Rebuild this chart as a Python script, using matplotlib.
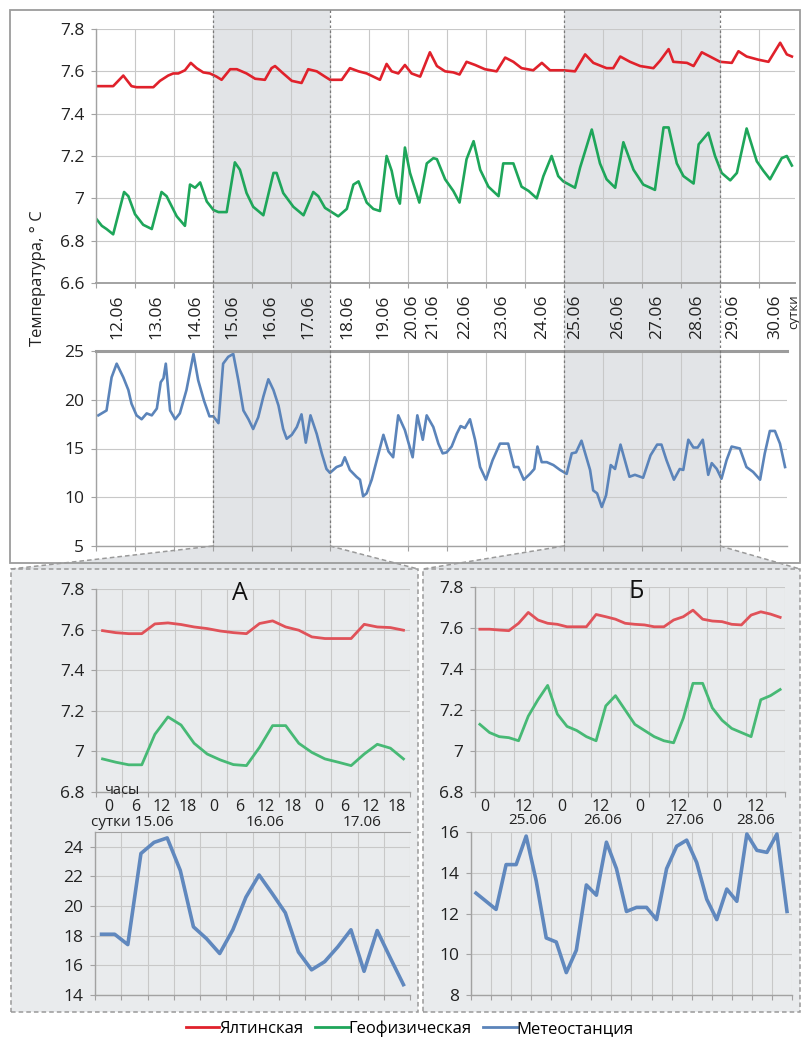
import numpy as np
import matplotlib
matplotlib.use("Agg")
import matplotlib.pyplot as plt
from matplotlib.patches import Rectangle, Polygon
from matplotlib.lines import Line2D
from matplotlib.ticker import FuncFormatter
import matplotlib.transforms as mtrans

plt.rcParams['font.family'] = ['Open Sans', 'DejaVu Sans']

# ---- top chart: 12.06-30.06, x in days from 12.06 00h (grid units) ----
red_top_x = [0.02,0.44,0.70,0.91,1.04,1.47,1.64,1.85,1.98,2.11,2.28,2.43,2.58,2.75,2.92,3.09,3.22,3.44,3.61,3.86,
             4.08,4.33,4.50,4.59,4.80,5.02,5.27,5.44,5.66,5.87,6.00,6.30,6.51,6.73,6.94,7.11,7.28,7.45,7.58,7.75,
             7.92,8.09,8.31,8.56,8.74,8.95,9.16,9.32,9.50,9.72,9.97,10.27,10.49,10.70,10.91,11.21,11.43,11.64,11.98,12.28,
             12.54,12.75,13.09,13.26,13.44,13.69,13.95,14.29,14.46,14.68,14.80,15.15,15.32,15.53,15.74,16.00,16.30,16.47,16.68,16.98,
             17.24,17.54,17.71,17.84]
red_top = [7.53,7.53,7.58,7.53,7.525,7.525,7.555,7.58,7.59,7.59,7.605,7.64,7.615,7.595,7.59,7.575,7.56,7.61,7.61,7.59,
           7.565,7.56,7.615,7.625,7.59,7.555,7.545,7.61,7.6,7.575,7.56,7.56,7.615,7.6,7.59,7.575,7.56,7.635,7.6,7.59,
           7.63,7.59,7.575,7.69,7.625,7.6,7.595,7.585,7.645,7.63,7.61,7.6,7.665,7.645,7.615,7.605,7.64,7.605,7.605,7.6,
           7.68,7.64,7.615,7.615,7.67,7.645,7.625,7.615,7.65,7.705,7.645,7.64,7.625,7.69,7.67,7.645,7.64,7.695,7.67,7.655,
           7.645,7.735,7.68,7.67]

green_top_x = [0.02,0.15,0.27,0.44,0.72,0.83,1.00,1.21,1.43,1.68,1.81,2.07,2.28,2.41,2.54,2.67,2.84,3.01,3.14,3.35,
               3.56,3.69,3.86,4.03,4.29,4.55,4.63,4.80,5.06,5.32,5.57,5.70,5.87,6.00,6.21,6.43,6.60,6.73,6.94,7.11,
               7.28,7.45,7.58,7.71,7.79,7.92,8.05,8.29,8.48,8.65,8.74,8.95,9.16,9.32,9.50,9.68,9.85,10.06,10.32,10.44,
               10.70,10.91,11.09,11.30,11.47,11.68,11.85,11.98,12.28,12.41,12.71,12.92,13.09,13.31,13.52,13.78,14.03,14.33,14.55,14.68,
               14.89,15.06,15.32,15.45,15.70,15.87,16.04,16.26,16.43,16.68,16.94,17.11,17.28,17.58,17.71,17.84]
green_top = [6.90,6.87,6.855,6.83,7.03,7.01,6.925,6.875,6.855,7.03,7.01,6.915,6.87,7.065,7.05,7.075,6.985,6.945,6.935,6.935,
             7.17,7.135,7.025,6.96,6.92,7.12,7.12,7.025,6.96,6.92,7.03,7.01,6.955,6.94,6.915,6.95,7.065,7.08,6.98,6.95,
             6.94,7.20,7.13,7.01,6.975,7.24,7.12,6.98,7.165,7.19,7.185,7.09,7.035,6.98,7.185,7.27,7.135,7.055,7.01,7.165,
             7.165,7.055,7.035,7.0,7.105,7.20,7.105,7.08,7.05,7.145,7.325,7.165,7.09,7.05,7.265,7.135,7.065,7.04,7.335,7.335,
             7.165,7.105,7.07,7.255,7.31,7.20,7.12,7.085,7.12,7.33,7.175,7.13,7.09,7.19,7.20,7.155]

blue_top_x = [0.06,0.27,0.40,0.53,0.70,0.83,0.91,1.04,1.17,1.30,1.43,1.56,1.66,1.73,1.79,1.90,2.03,2.15,2.32,2.50,
              2.62,2.77,2.91,3.01,3.14,3.26,3.39,3.52,3.65,3.78,3.91,4.03,4.16,4.29,4.42,4.55,4.68,4.80,4.89,5.02,
              5.15,5.27,5.38,5.50,5.66,5.79,5.91,6.00,6.17,6.30,6.38,6.51,6.68,6.77,6.85,6.94,7.07,7.20,7.37,7.50,
              7.62,7.75,7.92,8.12,8.24,8.38,8.48,8.65,8.78,8.89,8.99,9.12,9.25,9.35,9.46,9.59,9.72,9.85,10.00,10.17,
              10.36,10.57,10.72,10.83,10.97,11.13,11.24,11.32,11.43,11.56,11.73,11.90,12.07,12.20,12.31,12.45,12.67,12.75,12.85,12.97,
              13.08,13.20,13.31,13.45,13.68,13.82,14.03,14.22,14.39,14.50,14.63,14.82,14.97,15.06,15.19,15.32,15.43,15.56,15.70,15.79,
              15.92,16.04,16.17,16.30,16.51,16.68,16.85,17.03,17.15,17.28,17.41,17.54,17.67]
blue_top = [18.4,18.9,22.3,23.7,22.3,21.0,19.6,18.4,18.0,18.6,18.4,19.1,21.8,22.2,23.7,18.9,18.0,18.6,21.0,24.7,
            22.0,19.9,18.3,18.3,17.6,23.7,24.4,24.7,22.0,18.9,18.0,17.0,18.2,20.3,22.1,21.0,19.4,17.0,16.0,16.4,
            17.2,18.5,15.6,18.4,16.5,14.5,12.9,12.5,13.1,13.3,14.1,12.8,12.1,11.8,10.1,10.4,11.8,13.8,16.4,14.7,
            14.1,18.4,16.9,14.1,18.4,15.9,18.4,17.2,15.5,14.5,14.6,15.2,16.5,17.3,17.1,18.0,15.9,13.1,11.8,13.8,
            15.5,15.5,13.1,13.1,11.8,12.4,12.9,15.2,13.6,13.6,13.3,12.8,12.4,14.5,14.6,15.8,12.8,10.7,10.4,9.0,
            10.2,13.3,12.9,15.4,12.1,12.3,12.0,14.3,15.4,15.4,13.8,11.8,12.9,12.8,15.9,15.1,15.1,15.9,12.3,13.5,
            12.9,11.9,13.8,15.2,15.0,13.1,12.6,11.8,14.5,16.8,16.8,15.5,13.1]

day_labels = ['12.06','13.06','14.06','15.06','16.06','17.06','18.06','19.06','20.06','21.06',
              '22.06','23.06','24.06','25.06','26.06','27.06','28.06','29.06','30.06']
day_label_pos = [0.56,1.56,2.54,3.49,4.46,5.44,6.44,7.36,8.10,8.64,9.46,10.41,11.44,12.28,13.38,14.38,15.41,16.33,17.41]
zoom_A = (3, 6)     # 15.06-17.06
zoom_B = (12, 16)   # 25.06-28.06

# ---- panel A: 15.06-17.06, 3-hourly, hours from 15.06 00h ----
hours_A = [1.5,4.5,7.5,10.5,13.5,16.5,19.5,22.5,25.5,28.5,31.5,34.5,37.5,40.5,43.5,46.5,49.5,52.5,55.5,58.5,61.5,64.5,67.5,70.5]
red_A = [7.595,7.585,7.58,7.58,7.628,7.633,7.625,7.613,7.605,7.593,7.585,7.58,7.63,7.643,7.613,7.597,7.564,7.556,7.556,7.556,7.626,7.613,7.61,7.597]
green_A = [6.963,6.947,6.934,6.934,7.084,7.17,7.13,7.04,6.987,6.958,6.935,6.93,7.02,7.127,7.127,7.04,6.995,6.963,6.947,6.93,6.987,7.035,7.016,6.963]
blue_A = [18.1,18.1,17.4,23.55,24.3,24.6,22.4,18.6,17.8,16.8,18.4,20.6,22.1,20.85,19.55,16.9,15.7,16.25,17.25,18.4,15.6,18.35,16.5,14.7]
hour_labels_A = ['0','6','12','18','0','6','12','18','0','6','12','18']
hour_label_pos_A = [3,9,15,21,27,33,39,45,51,57,63,69]
date_labels_A = ['сутки 15.06','16.06','17.06']
date_label_pos_A = [8.3,38.8,61.0]

# ---- panel B: 25.06-28.06, 3-hourly ----
hours_B = [1.5,4.5,7.5,10.5,13.5,16.5,19.5,22.5,25.5,28.5,31.5,34.5,37.5,40.5,43.5,46.5,
           49.5,52.5,55.5,58.5,61.5,64.5,67.5,70.5,73.5,76.5,79.5,82.5,85.5,88.5,91.5,94.5]
red_B = [7.594,7.594,7.59,7.587,7.623,7.676,7.639,7.623,7.618,7.606,7.606,7.606,7.666,7.655,7.643,7.623,
         7.618,7.615,7.606,7.606,7.639,7.655,7.687,7.643,7.634,7.631,7.618,7.615,7.663,7.679,7.668,7.652]
green_B = [7.13,7.09,7.07,7.065,7.05,7.17,7.25,7.32,7.18,7.12,7.10,7.07,7.05,7.22,7.27,7.20,
           7.13,7.10,7.07,7.05,7.04,7.16,7.33,7.33,7.21,7.15,7.11,7.09,7.07,7.25,7.27,7.30]
blue_B = [13.0,12.6,12.2,14.4,14.4,15.8,13.6,10.8,10.6,9.1,10.2,13.4,12.9,15.5,14.2,12.1,
          12.3,12.3,11.7,14.2,15.3,15.6,14.5,12.7,11.7,13.2,12.6,15.9,15.1,15.0,15.9,12.1]
hour_labels_B = ['0','12','0','12','0','12','0','12']
hour_label_pos_B = [3,15,27,39,51,63,75,87]
date_labels_B = ['25.06','26.06','27.06','28.06']
date_label_pos_B = [16.4,39.6,65.0,87.0]

series_names = ['Ялтинская', 'Геофизическая', 'Метеостанция']
RED, GREEN, BLUE = '#e0212b', '#1ea65a', '#5b84ba'
RED_L, GREEN_L, BLUE_L = '#e05259', '#47b975', '#6088be'
GRID = '#c8c8c8'; AXC = '#a2a2a2'; SHADE = '#e2e4e7'; PANEL = '#e9ebed'

W, H = 803, 1048
fig = plt.figure(figsize=(W/100, H/100), dpi=100)
def box(x0, y0, x1, y1): return [x0/W, 1-y1/H, (x1-x0)/W, (y1-y0)/H]
def fy(y): return 1-y/H
def fx(x): return x/W
fmt = FuncFormatter(lambda v, p: f"{v:g}")

def style(ax, xmax, xstep, ylo, yhi, ystep, lsize=12.5):
    ax.set_facecolor('none')
    ax.set_xlim(0, xmax); ax.set_ylim(ylo, yhi)
    ax.set_xticks(np.arange(0, xmax+1e-6, xstep)); ax.set_xticklabels([])
    ax.set_yticks(np.round(np.arange(ylo, yhi+1e-6, ystep), 2))
    ax.yaxis.set_major_formatter(fmt)
    ax.grid(True, color=GRID, lw=0.8)
    ax.set_axisbelow(True)
    for s in ['top', 'right']: ax.spines[s].set_visible(False)
    for s in ['left', 'bottom']: ax.spines[s].set_color(AXC); ax.spines[s].set_linewidth(1.0)
    ax.tick_params(length=3.5, color=AXC, labelsize=lsize, pad=5, labelcolor='#222222')

# top temperature chart
ax_t = fig.add_axes(box(96, 29, 795, 283))
style(ax_t, 17.92, 1, 6.6, 7.8, 0.2)
ax_t.plot(red_top_x, red_top, color=RED, lw=1.9)
ax_t.plot(green_top_x, green_top, color=GREEN, lw=1.9)
ax_t.spines['bottom'].set_linewidth(1.4)
for lab, pos in zip(day_labels, day_label_pos):
    ax_t.text(pos, -0.045, lab, transform=ax_t.get_xaxis_transform(), rotation=90,
              ha='center', va='top', fontsize=12.5, color='#222222')
ax_t.text(17.88, -0.045, 'сутки', transform=ax_t.get_xaxis_transform(), rotation=90,
          ha='center', va='top', fontsize=9.5, color='#222222')

# weather station chart
ax_m = fig.add_axes(box(96, 351, 787, 546))
style(ax_m, 17.72, 1, 5, 25, 5)
ax_m.plot(blue_top_x, blue_top, color=BLUE, lw=1.9)
ax_m.spines['top'].set_visible(True); ax_m.spines['top'].set_color('#9c9c9c'); ax_m.spines['top'].set_linewidth(2.2)

fig.text(38/W, fy(278), 'Температура, ° С', rotation=90, ha='center', va='center', fontsize=12, color='#222222')

# outer frame of the top block
fig.add_artist(Rectangle((fx(10), fy(563)), fx(790), (553)/H, transform=fig.transFigure,
                         facecolor='none', edgecolor='#9c9c9c', lw=1.3, zorder=3))

# shaded zoom ranges and connectors
blend = mtrans.blended_transform_factory(ax_t.transData, fig.transFigure)
def figx(v): return fig.transFigure.inverted().transform(ax_t.transData.transform((v, 7.0)))[0]
panels = [(zoom_A, 11, 418), (zoom_B, 423, 800)]
for (a, b), px0, px1 in panels:
    fig.add_artist(Rectangle((a, fy(546)), b-a, fy(10)-fy(546), transform=blend,
                             facecolor=SHADE, edgecolor='none', zorder=-2))
    for v in (a, b):
        fig.add_artist(Line2D([v, v], [fy(10), fy(546)], transform=blend, color='#7a7a7a',
                              lw=0.9, ls=(0, (2, 2)), zorder=4))
    xa, xb = figx(a), figx(b)
    fig.add_artist(Polygon([(xa, fy(546)), (xb, fy(546)), (fx(px1), fy(569)), (fx(px0), fy(569))],
                           closed=True, transform=fig.transFigure, facecolor=SHADE, edgecolor='none', zorder=-2))
    fig.add_artist(Line2D([xa, fx(px0)], [fy(546), fy(569)], transform=fig.transFigure, color='#9a9a9a',
                          lw=1.1, ls=(0, (3, 2)), zorder=4))
    fig.add_artist(Line2D([xb, fx(px1)], [fy(546), fy(569)], transform=fig.transFigure, color='#9a9a9a',
                          lw=1.1, ls=(0, (3, 2)), zorder=4))
    fig.add_artist(Rectangle((fx(px0), fy(1012)), fx(px1-px0), (1012-569)/H, transform=fig.transFigure,
                             facecolor=PANEL, edgecolor='#9a9a9a', lw=1.1, ls=(0, (3, 2)), zorder=-2))

# panel A
ax_a1 = fig.add_axes(box(96, 589, 410, 792))
style(ax_a1, 72, 6, 6.8, 7.8, 0.2)
ax_a1.plot(hours_A, red_A, color=RED_L, lw=2.0)
ax_a1.plot(hours_A, green_A, color=GREEN_L, lw=2.0)
tr = ax_a1.get_xaxis_transform()
for lab, pos in zip(hour_labels_A, hour_label_pos_A):
    ax_a1.text(pos, -0.075, lab, transform=tr, ha='center', va='center', fontsize=11.5, color='#222222')
for lab, pos in zip(date_labels_A, date_label_pos_A):
    ax_a1.text(pos, -0.15, lab, transform=tr, ha='center', va='center', fontsize=11, color='#222222')
ax_a1.text(6, 0.005, 'часы', transform=tr, ha='center', va='center', fontsize=10.5, color='#222222')
fig.text(fx(240), fy(593), 'А', ha='center', va='center', fontsize=18, color='#111111')

ax_a2 = fig.add_axes(box(95, 832, 410, 995))
style(ax_a2, 72, 6, 14, 25, 2)
ax_a2.set_yticks([14, 16, 18, 20, 22, 24])
ax_a2.spines['top'].set_visible(True); ax_a2.spines['top'].set_color(AXC)
ax_a2.plot(hours_A, blue_A, color=BLUE_L, lw=2.6)

# panel B
ax_b1 = fig.add_axes(box(475, 587, 785, 792))
style(ax_b1, 96, 6, 6.8, 7.8, 0.2)
ax_b1.plot(hours_B, red_B, color=RED_L, lw=2.0)
ax_b1.plot(hours_B, green_B, color=GREEN_L, lw=2.0)
tr = ax_b1.get_xaxis_transform()
for lab, pos in zip(hour_labels_B, hour_label_pos_B):
    ax_b1.text(pos, -0.073, lab, transform=tr, ha='center', va='center', fontsize=11.5, color='#222222')
for lab, pos in zip(date_labels_B, date_label_pos_B):
    ax_b1.text(pos, -0.14, lab, transform=tr, ha='center', va='center', fontsize=11, color='#222222')
fig.text(fx(636), fy(591), 'Б', ha='center', va='center', fontsize=18, color='#111111')

ax_b2 = fig.add_axes(box(471, 832, 792, 995))
style(ax_b2, 96, 6, 8, 16, 2)
ax_b2.plot(hours_B, blue_B, color=BLUE_L, lw=2.6)

# legend
handles = [Line2D([], [], color=c, lw=2) for c in (RED, GREEN, BLUE)]
fig.legend(handles, series_names, loc='center', bbox_to_anchor=(fx(410), fy(1029)), ncol=3, frameon=False,
           handlelength=2.0, handletextpad=0.0, columnspacing=0.7, fontsize=12)

fig.savefig('out.png', dpi=100)
